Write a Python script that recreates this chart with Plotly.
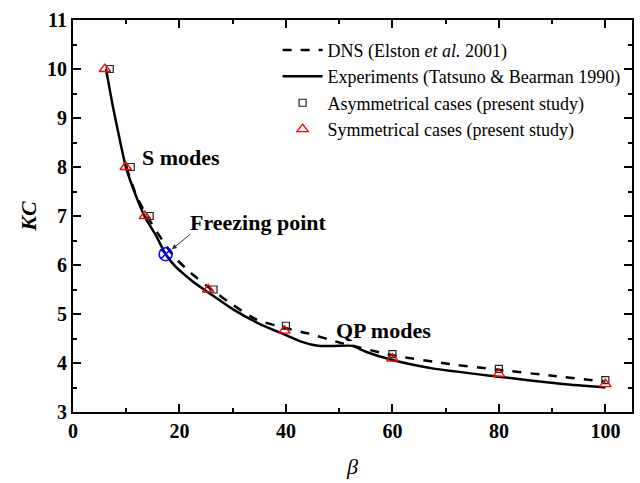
import plotly.graph_objects as go

# Experiments (Tatsuno & Bearman 1990) - solid line
exp_beta = [6.2, 7.5, 8.8, 10, 11.9, 13.5, 15.7, 17.4, 19.4, 21.3, 23, 25, 30, 35, 40, 43, 46, 50, 52.5, 55, 60, 67.5, 80, 92, 100]
exp_kc = [10.0, 9.23, 8.55, 7.97, 7.39, 6.98, 6.58, 6.22, 5.95, 5.77, 5.62, 5.47, 5.1, 4.8, 4.57, 4.43, 4.35, 4.35, 4.35, 4.23, 4.06, 3.89, 3.72, 3.57, 3.50]

# DNS (Elston et al. 2001) - dashed line
dns_beta = [10, 12, 14, 17, 19, 22, 26, 30, 34.4, 40, 44.3, 50, 60, 70, 80, 90, 100]
dns_kc = [8.0, 7.39, 6.98, 6.47, 6.17, 5.85, 5.5, 5.19, 4.89, 4.71, 4.6, 4.42, 4.16, 3.99, 3.86, 3.74, 3.62]

# Asymmetrical cases (present study)
asym_beta = [6.9, 10.85, 14.4, 26.4, 40, 60, 80, 100]
asym_kc = [10, 8, 7, 5.5, 4.76, 4.18, 3.88, 3.65]

# Symmetrical cases (present study)
sym_beta = [6.0, 9.9, 13.5, 25.4, 39.7, 60, 80, 100]
sym_kc = [10, 8, 7, 5.5, 4.66, 4.09, 3.78, 3.57]

# Freezing point
freeze_beta = [17.4]
freeze_kc = [6.22]

serif = "Liberation Serif, Times New Roman, serif"

fig = go.Figure()
fig.add_trace(go.Scatter(x=dns_beta, y=dns_kc, mode="lines", line=dict(color="black", width=2.5, dash="dash", shape="spline", smoothing=0.6),
                         name="DNS (Elston <i>et al.</i> 2001)"))
fig.add_trace(go.Scatter(x=exp_beta, y=exp_kc, mode="lines", line=dict(color="black", width=2.5, shape="spline", smoothing=0.6),
                         name="Experiments (Tatsuno & Bearman 1990)"))
fig.add_trace(go.Scatter(x=asym_beta, y=asym_kc, mode="markers",
                         marker=dict(symbol="square-open", size=7, color="#222222", line=dict(width=1.2)),
                         name="Asymmetrical cases (present study)"))
fig.add_trace(go.Scatter(x=sym_beta, y=sym_kc, mode="markers",
                         marker=dict(symbol="triangle-up-open", size=10, color="red", line=dict(width=1.3)),
                         name="Symmetrical cases (present study)"))
fig.add_trace(go.Scatter(x=freeze_beta, y=freeze_kc, mode="markers",
                         marker=dict(symbol="circle-x-open", size=13, color="blue", line=dict(width=1.5)),
                         showlegend=False))

fig.add_annotation(x=20.2, y=8.2, text="<b>S modes</b>", showarrow=False, xanchor="center", yanchor="middle",
                   font=dict(family=serif, size=22, color="black"))
fig.add_annotation(x=21.6, y=6.86, text="<b>Freezing point</b>", showarrow=False, xanchor="left", yanchor="middle",
                   font=dict(family=serif, size=22, color="black"))
fig.add_annotation(x=49, y=4.66, text="<b>QP modes</b>", showarrow=False, xanchor="left", yanchor="middle",
                   font=dict(family=serif, size=22, color="black"))
fig.add_annotation(x=freeze_beta[0], y=freeze_kc[0], ax=26, ay=-21, axref="pixel", ayref="pixel", text="",
                   showarrow=True, arrowhead=2, arrowsize=1, arrowwidth=1, arrowcolor="#333333", standoff=8)

axis_common = dict(showline=True, linewidth=2, linecolor="black", mirror="allticks", ticks="inside",
                   ticklen=8, tickwidth=2, tickcolor="black", showgrid=False, zeroline=False,
                   tickfont=dict(family=serif, size=20, color="black"))

fig.update_layout(
    width=640, height=483,
    margin=dict(l=73, r=6, t=20, b=71),
    paper_bgcolor="white", plot_bgcolor="white",
    xaxis=dict(range=[0, 105], dtick=20, tick0=0,
               minor=dict(dtick=10, ticks="inside", ticklen=4, tickwidth=2, tickcolor="black"),
               title=dict(text="<i>β</i>", font=dict(family=serif, size=22, color="black"), standoff=18),
               tickprefix="<b>", ticksuffix="</b>", **axis_common),
    yaxis=dict(range=[3, 11], dtick=1, tick0=3,
               minor=dict(dtick=0.5, ticks="inside", ticklen=4, tickwidth=2, tickcolor="black"),
               title=dict(text="<b><i>KC</i></b>", font=dict(family=serif, size=22, color="black"), standoff=4),
               tickprefix="<b>", ticksuffix="</b>", **axis_common),
    legend=dict(x=0.366, y=0.97, xanchor="left", yanchor="top", bgcolor="rgba(0,0,0,0)",
                font=dict(family=serif, size=18, color="black"), itemwidth=40, tracegroupgap=0),
    showlegend=True,
)

fig.write_html("out.html")
